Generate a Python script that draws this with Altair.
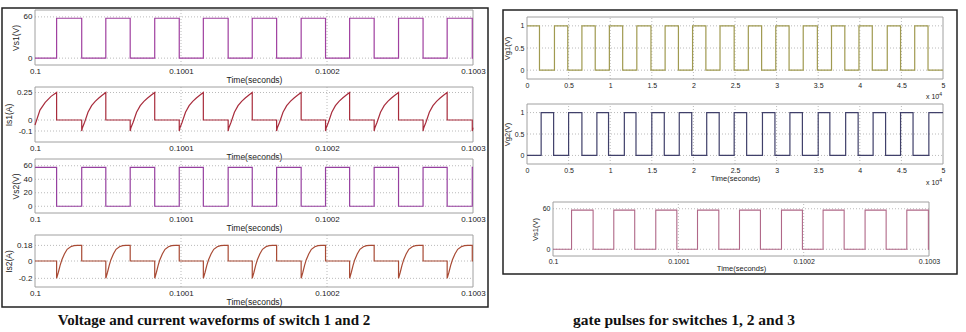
import altair as alt
import pandas as pd

W, H = 966, 332

# ---------------- data ----------------
# Switch-1 voltage edges (microseconds after t = 0.1 s)
vs1_rise_us = [14.8, 48.5, 82.0, 115.3, 148.8, 182.3, 215.5, 249.0, 282.3]
vs1_fall_us = [32.0, 65.2, 98.8, 132.3, 165.5, 199.0, 232.3, 265.8, 299.5]
vs1_high = 58.0
vs2_high = 57.5
t_end_us = 300.0

# Is1: first partial segment (before first rise) and per-cycle profile
is1_start_us = [0.0, 3.4, 7.0, 11.0, 14.8]
is1_start_a = [-0.045, 0.09, 0.16, 0.215, 0.25]
is1_frac = [0.0, 0.03, 0.12, 0.26, 0.41, 0.56, 0.71, 0.85, 1.0]
is1_a = [-0.10, -0.07, -0.02, 0.07, 0.13, 0.17, 0.20, 0.225, 0.25]
is1_end_a = -0.07

# Is2: per-cycle profile
is2_frac = [0.0, 0.07, 0.14, 0.21, 0.31, 0.42, 0.56, 0.69, 0.83, 1.0]
is2_a = [-0.20, -0.13, -0.05, 0.015, 0.08, 0.135, 0.165, 0.178, 0.18, 0.18]

# Gate pulses (units of 1e-4 s)
vg1_fall = [0.15, 0.49, 0.82, 1.15, 1.49, 1.82, 2.15, 2.49, 2.82, 3.15, 3.49, 3.82, 4.15, 4.49, 4.82]
vg1_rise = [0.33, 0.66, 0.99, 1.32, 1.66, 1.99, 2.32, 2.66, 2.99, 3.32, 3.66, 3.99, 4.33, 4.66]
vg2_rise = [0.17, 0.50, 0.84, 1.17, 1.50, 1.83, 2.16, 2.49, 2.83, 3.16, 3.50, 3.83, 4.16, 4.49, 4.83]
vg2_fall = [0.32, 0.66, 0.98, 1.31, 1.65, 1.98, 2.31, 2.64, 2.98, 3.31, 3.64, 3.98, 4.31, 4.64]
vg_end = 5.0

# Tick values
left_x_ticks = [0.1, 0.1001, 0.1002, 0.1003]
vs1_y_ticks = [0, 60]
is1_y_ticks = [-0.1, 0, 0.25]
vs2_y_ticks = [0, 20, 40, 60]
is2_y_ticks = [-0.2, 0, 0.18]
vg_x_ticks = [0, 0.5, 1, 1.5, 2, 2.5, 3, 3.5, 4, 4.5, 5]
vg_y_ticks = [0, 0.5, 1]

# ---------------- build step / waveform tables ----------------
def to_df(pts, scale=1.0, offset=0.0):
    return pd.DataFrame({
        "t": [offset + p[0] * scale for p in pts],
        "v": [p[1] for p in pts],
        "i": list(range(len(pts))),
    })

n = len(vs1_rise_us)
p = [(0.0, 0.0)]
for r, f in zip(vs1_rise_us, vs1_fall_us):
    p += [(r, 0.0), (r, vs1_high), (f, vs1_high), (f, 0.0)]
p.append((t_end_us, 0.0))
vs1_df = to_df(p, 1e-6, 0.1)

p = [(0.0, vs2_high)]
for r, f in zip(vs1_rise_us, vs1_fall_us):
    p += [(r, vs2_high), (r, 0.0), (f, 0.0), (f, vs2_high)]
p.append((t_end_us, vs2_high))
vs2_df = to_df(p, 1e-6, 0.1)

p = list(zip(is1_start_us, is1_start_a))
for k in range(n):
    r, f = vs1_rise_us[k], vs1_fall_us[k]
    p += [(r, 0.0), (f, 0.0)]
    if k + 1 < n:
        nr = vs1_rise_us[k + 1]
        p += [(f + fr * (nr - f), a) for fr, a in zip(is1_frac, is1_a)]
    else:
        p += [(f, is1_a[0]), (t_end_us, is1_end_a)]
is1_df = to_df(p, 1e-6, 0.1)

p = [(0.0, 0.0)]
for r, f in zip(vs1_rise_us, vs1_fall_us):
    p.append((r, 0.0))
    p += [(r + fr * (f - r), a) for fr, a in zip(is2_frac, is2_a)]
    p.append((f, 0.0))
p.append((t_end_us, 0.0))
is2_df = to_df(p, 1e-6, 0.1)

p = [(0.0, 1.0)]
for i, f in enumerate(vg1_fall):
    p += [(f, 1.0), (f, 0.0)]
    if i < len(vg1_rise):
        r = vg1_rise[i]
        p += [(r, 0.0), (r, 1.0)]
p.append((vg_end, 0.0))
vg1_df = to_df(p)

p = [(0.0, 0.0)]
for i, r in enumerate(vg2_rise):
    p += [(r, 0.0), (r, 1.0)]
    if i < len(vg2_fall):
        f = vg2_fall[i]
        p += [(f, 1.0), (f, 0.0)]
p.append((vg_end, 1.0))
vg2_df = to_df(p)

# ---------------- styling ----------------
FONT = "Liberation Sans"
GRID = "#a8a8a8"
FRAME = "#a0a0a0"
LAB = "#222222"
Y_EXPR = "replace(format(datum.value, '~g'), '\u2212', '-')"
LX_EXPR = "format(datum.value, '.4~f')"
RX_EXPR = "format(datum.value, '~g')"


def panel(df, color, sw, xdom, xpx, ydom, ypx, xticks, yticks, xexpr,
          ytitle, xtitle, fs, tfs, xlp, xtp, ylp=3, ytp=3):
    x0, x1 = xpx
    top, bot = ypx
    xs = alt.Scale(domain=list(xdom), range=[x0, x1], nice=False, zero=False)
    ys = alt.Scale(domain=list(ydom), range=[bot, top], nice=False, zero=False)
    inner_x = [v for v in xticks if xdom[0] < v < xdom[1]]
    gv = pd.DataFrame({"x": inner_x, "y0": ydom[0], "y1": ydom[1]})
    gh = pd.DataFrame({"y": yticks, "x0": xdom[0], "x1": xdom[1]})
    fr = pd.DataFrame({"x0": [xdom[0]], "x1": [xdom[1]], "y0": [ydom[0]], "y1": [ydom[1]]})

    grid_v = alt.Chart(gv).mark_rule(color=GRID, strokeWidth=0.8, strokeDash=[1, 2]).encode(
        x=alt.X("x:Q", scale=xs, axis=None),
        y=alt.Y("y0:Q", scale=ys, axis=None), y2="y1:Q")
    grid_h = alt.Chart(gh).mark_rule(color=GRID, strokeWidth=0.8, strokeDash=[1, 2]).encode(
        x=alt.X("x0:Q", scale=xs, axis=None), x2="x1:Q",
        y=alt.Y("y:Q", scale=ys, axis=None))
    frame = alt.Chart(fr).mark_rect(fillOpacity=0, stroke=FRAME, strokeWidth=1).encode(
        x=alt.X("x0:Q", scale=xs, axis=None), x2="x1:Q",
        y=alt.Y("y0:Q", scale=ys, axis=None), y2="y1:Q")

    xaxis = alt.Axis(orient="bottom", offset=bot - H, values=xticks, labelExpr=xexpr,
                     grid=False, ticks=False, domain=False, labelFont=FONT,
                     labelFontSize=fs, labelColor=LAB, labelPadding=xlp,
                     labelFlush=False, labelOverlap=False, title=xtitle,
                     titleFont=FONT, titleFontSize=tfs, titleFontWeight="normal",
                     titleColor=LAB, titlePadding=xtp)
    yaxis = alt.Axis(orient="left", offset=-x0, values=yticks, labelExpr=Y_EXPR,
                     grid=False, ticks=False, domain=False, labelFont=FONT,
                     labelFontSize=fs, labelColor=LAB, labelPadding=ylp,
                     labelOverlap=False, title=ytitle, titleFont=FONT,
                     titleFontSize=tfs, titleFontWeight="normal", titleColor=LAB,
                     titlePadding=ytp)
    line = alt.Chart(df).mark_line(color=color, strokeWidth=sw).encode(
        x=alt.X("t:Q", scale=xs, axis=xaxis),
        y=alt.Y("v:Q", scale=ys, axis=yaxis),
        order=alt.Order("i:Q"))
    return [grid_v, grid_h, frame, line]


LXD = (0.1, 0.1003)
layers = []

# outer boxes
one = pd.DataFrame({"a": [0]})
for (bx0, by0, bx1, by1) in [(2, 8, 488, 307), (503, 10, 957, 274)]:
    layers.append(alt.Chart(one).mark_rect(fillOpacity=0, stroke="#222222", strokeWidth=1.5).encode(
        x=alt.value(bx0), x2=alt.value(bx1), y=alt.value(by0), y2=alt.value(by1)))

# left column
layers += panel(vs1_df, "#a040a0", 1.2, LXD, (35, 473), (-10, 70), (10, 65),
                left_x_ticks, vs1_y_ticks, LX_EXPR, "Vs1(V)", "Time(seconds)", 8, 8.5, 2, 0)
layers += panel(is1_df, "#a82c3c", 1.2, LXD, (35, 473), (-0.2, 0.3), (87, 142),
                left_x_ticks, is1_y_ticks, LX_EXPR, "Is1(A)", "Time(seconds)", 8, 8.5, 2, 0)
layers += panel(vs2_df, "#9640a0", 1.2, LXD, (35, 473), (-10, 70), (159, 213),
                left_x_ticks, vs2_y_ticks, LX_EXPR, "Vs2(V)", "Time(seconds)", 8, 8.5, 2, 0)
layers += panel(is2_df, "#a84a34", 1.2, LXD, (35, 473), (-0.3, 0.3), (235, 287),
                left_x_ticks, is2_y_ticks, LX_EXPR, "Is2(A)", "Time(seconds)", 8, 8.5, 2, 0)

# right column
layers += panel(vg1_df, "#a09a50", 1.2, (0, 5), (527, 943), (-0.2, 1.2), (17, 79),
                vg_x_ticks, vg_y_ticks, RX_EXPR, "Vg1(V)", None, 7, 7.5, 2, 0)
layers += panel(vg2_df, "#40406a", 1.2, (0, 5), (527, 943), (-0.2, 1.2), (104, 164),
                vg_x_ticks, vg_y_ticks, RX_EXPR, "Vg2(V)", "Time(seconds)", 7, 7.5, 2, 1)
layers += panel(vs1_df, "#b06888", 1.1, LXD, (553, 929), (-10, 70), (202, 256),
                left_x_ticks, vs1_y_ticks, LX_EXPR, "Vs1(V)", "Time(seconds)", 7, 7.5, 1, 0)

# annotations
def txt(s, x, y, size, font=FONT, weight="normal", align="left", color=LAB):
    return alt.Chart(one).mark_text(text=s, font=font, fontSize=size, fontWeight=weight,
                                    align=align, baseline="middle", color=color).encode(
        x=alt.value(x), y=alt.value(y))

for yy in (97, 183):
    layers.append(txt("x 10", 926, yy, 7))
    layers.append(txt("-4", 937.5, yy - 3.5, 5))

layers.append(txt("Voltage and current waveforms of switch 1 and 2", 214, 320, 15,
                  font="Liberation Serif", weight="bold", align="center", color="#111111"))
layers.append(txt("gate pulses for switches 1, 2 and 3", 684, 320, 15.5,
                  font="Liberation Serif", weight="bold", align="center", color="#111111"))

chart = alt.layer(*layers).resolve_scale(x="independent", y="independent").resolve_axis(
    x="independent", y="independent").properties(
    width=W, height=H, padding=0, background="white",
    autosize=alt.AutoSizeParams(type="none")).configure_view(stroke="transparent")

chart.save("out.html", embed_options={"renderer": "svg", "actions": False})
